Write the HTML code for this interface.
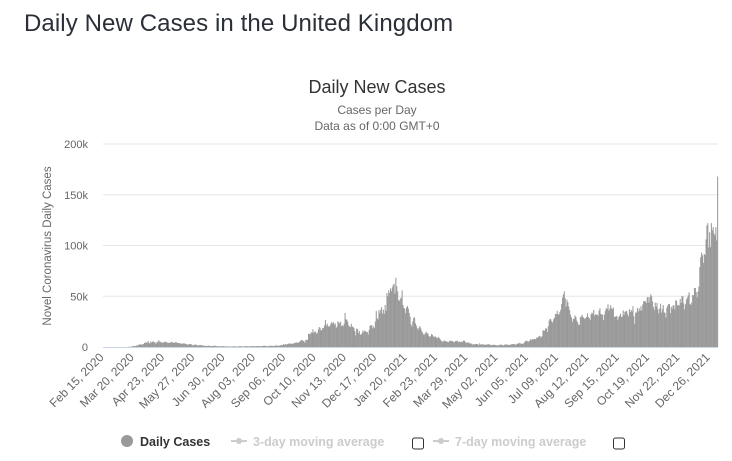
<!DOCTYPE html>
<html><head><meta charset="utf-8">
<style>
body{margin:0;background:#fff;width:732px;height:461px;overflow:hidden;font-family:"Liberation Sans","DejaVu Sans",sans-serif}
h1{position:absolute;left:24px;top:10px;margin:0;font-size:24px;font-weight:normal;color:#2b2f38;letter-spacing:0.1px}
svg{position:absolute;left:0;top:0}
</style></head><body>
<h1>Daily New Cases in the United Kingdom</h1>
<svg id="chart" width="732" height="461"></svg>
<script>
const startDate = new Date(Date.UTC(2020,1,15));
const yTicks = [0,50000,100000,150000,200000];
const yTickLabels = ["0","50k","100k","150k","200k"];
const xTickLabels = ["Feb 15, 2020","Mar 20, 2020","Apr 23, 2020","May 27, 2020","Jun 30, 2020","Aug 03, 2020","Sep 06, 2020","Oct 10, 2020","Nov 13, 2020","Dec 17, 2020","Jan 20, 2021","Feb 23, 2021","Mar 29, 2021","May 02, 2021","Jun 05, 2021","Jul 09, 2021","Aug 12, 2021","Sep 15, 2021","Oct 19, 2021","Nov 22, 2021","Dec 26, 2021"];
const xTickStep = 34;
// daily new cases, thousands, starting Feb 15, 2020
const casesK = [
0,0,0,0,0,0,0, 0,0,0,0,0,0,0, 0,0,0,0,0,0,0, 0,0,0,0,0,0,0,
0.3,0.2,0.2,0.4,0.6,0.7,1, 1,1,1.4,1.5,2,2.5,2.5, 2.5,2.4,2.6,3,4,4.3,4.4, 4.5,5.9,3.8,3.6,5.5,4.3,5.2,
5.3,4.7,4.3,3.2,5.3,4.6,6.6, 5.5,4.7,4.7,4.3,4.4,4.6,5.4, 4.9,4.5,4.3,4.1,4.1,4.3,5, 4.8,4.3,4,4.4,4.8,4.6,3.9,
3.9,3.9,3.5,3.4,3.2,3.4,3.6, 3.4,3.1,2.7,2.4,2.5,2.6,2.9, 2.9,2.4,1.6,2,2,2.6,2.2, 1.6,1.6,1.6,1.9,1.9,1.8,1.6,
1.3,1.2,1.2,1,1,1.2,1.5, 1,0.9,1,1,0.9,1.2,1.3, 0.9,0.9,0.8,0.8,0.7,0.6,0.7, 0.9,0.8,0.7,0.6,0.6,0.6,0.5,
0.6,0.5,0.4,0.5,0.6,0.5,0.8, 0.7,0.5,0.5,0.4,0.5,0.7,0.8, 0.8,0.7,0.5,0.4,0.7,0.7,0.8, 0.8,0.7,0.7,0.6,0.8,0.9,0.9,
0.7,0.7,0.9,0.7,0.9,1,0.9, 0.8,0.7,0.9,0.9,1,1.4,1.1, 1.1,0.7,0.8,0.8,1.2,1.1,1.3, 1,1.1,0.9,1.2,1.4,1.5,1.5,
1.1,1.3,1.5,1.8,1.9,1.9,2.9, 1.8,2.9,2.6,2.5,3,3.5,3.5, 3.3,3.1,3,3.8,3.4,4.3,4.3, 4.4,4,4.6,4.9,6.2,6.6,6.9,
6,5.7,4,7.1,7.1,6.9,12.9, 12.9,12.6,14.5,14.2,17.5,13.9,15.2, 15.2,13,13.9,17.2,19.7,18.9,16.2, 16.9,18.8,18.8,21.3,26.7,21.2,23,
20.5,19.8,20.9,22.9,24.7,23.1,24.4, 21.9,23.3,18.9,20,25.2,24.1,23.3, 24.9,20.6,21.4,20.4,22.9,33.5,27.3, 26.9,24.9,21.4,20.1,19.6,22.9,20.2,
19.9,18.6,15.5,11.3,18.2,17.6,13.7, 15.9,12.2,12.3,13.4,16.2,14.9,16.3, 15.5,14.7,14.7,12.2,16.6,20.9,21.5, 21.5,18.4,20.3,18.5,25.2,35.4,28.5,
27.1,36.3,33.4,36.8,39.2,32.7,36.8, 32.7,41.4,35.9,53.1,50,55.9,53.3, 57.7,55,58.8,61,62.3,52.6,68.1, 59.9,54.9,46.2,45.5,47.5,48.7,55.8,
41.3,38.6,37.5,33.4,38.9,40.3,37.9, 33.6,30,22.2,20.1,25.3,28.7,29.1, 23.3,21.1,18.6,16.8,19.2,20.6,18.3, 15.8,14.2,12.4,12.3,13.5,15,13.5,
13.3,10.9,9.8,10.6,12.7,12.1,10.4, 9.8,10.6,9.9,8.5,8.9,9.9,8.5, 7.4,6,5.5,4.7,6.4,6,5.9, 5.1,5.2,4.7,5.8,6.4,5.7,6,
5.5,4.6,5.1,5.8,5.8,6.3,4.8, 5.4,5.3,4.6,5.4,5.2,6.4,6.2, 4.7,3.9,4.7,4,4.5,3.4,3.4, 3.4,2.3,2.8,2.5,2.8,3,3,
2.6,1.7,3.6,2.5,2.5,2.6,2.8, 2,2.2,2.2,2.5,2.6,2.7,2.6, 2.1,1.7,2.1,2.1,2.2,2.1,1.9, 1.6,1.6,1.6,1.9,2.3,2.5,2,
1.8,1.6,2.4,2.3,2.7,2.2,2.2, 1.9,2.2,2.4,2.7,2.9,2.7,3, 2.2,2.4,3.2,3.5,3.5,4.2,3.3, 3.2,3.2,3.2,4.3,5.3,6.2,6.2,
5.3,5.3,6,7.5,6.9,7.7,7.7, 7.5,8,7.7,9.3,9,10,11, 10.3,9.3,10.6,16,16.7,15.8,18.3, 18.3,14.9,20.5,26,27.9,27.1,24.9,
24.1,27.3,28.8,32.6,32.5,35.7,32.4, 31.8,34.5,36.7,42.3,48.6,51.9,54.7, 48.1,39.9,46.6,44.1,39.9,36.4,31.8, 29.2,24.9,27.7,27.7,31.1,29.6,26.1,
24.5,21.9,21.7,29.3,30.2,31.8,29.6, 28.6,27.4,28.4,29.6,33.1,29.5,28.4, 26.7,32.3,33.9,32.8,36.6,31.1,32.1, 31.9,31.9,30.8,35.8,38.3,32.4,32.2,
31.8,26.4,32.1,35.7,38.2,37.6,42.1, 35.8,37.8,41.2,38,37.5,38.9,29.5, 30.1,29.6,30.8,26.6,29.2,30.6,32.7, 29.6,29.9,36.1,31.6,34.5,35.6,35.3,
32.4,30.3,37.2,34.5,36.5,35.1,40.2, 30.3,22.9,33.9,34,38.5,35.1,38.1, 35.9,40.2,36,42,45.1,45.1,44.9, 43.4,48.9,49.2,43.7,49.1,52,50,
44.9,39.3,36.5,43.7,39.8,43.5,37.1, 33.1,38,42.6,33.9,37.4,41.3,34.3, 33.6,29.1,38.6,40.9,42.4,42.2,33.3, 39.6,37.7,41.2,40.8,37.1,46.1,45.4,
40.9,41.4,40.9,47.3,43.4,50.1,49.9, 43,37.2,42,46.8,48.6,50.9,53.9, 42.5,41.3,43.9,51.3,50.8,58.2,58.1, 54,48.9,54.7,59.6,78.6,88.4,93,
90.4,82.9,91.7,90.6,106,119.8,122, 98,113,98.5,122,115,118,112, 110,118,105,168
];

const NS="http://www.w3.org/2000/svg";
const svg=document.getElementById('chart');
function mk(t,a,p){const e=document.createElementNS(NS,t);for(const k in a)e.setAttribute(k,a[k]);(p||svg).appendChild(e);return e;}
const X0=103,X1=718,Y0=347,Y1=144,YMAX=200000;
const n=casesK.length, bw=(X1-X0)/n;
const xPos=i=>X0+i*bw;
const yPos=v=>Y0-(v/YMAX)*(Y0-Y1);

let t=mk('text',{x:377,y:93,'text-anchor':'middle','font-size':18,fill:'#333'});t.textContent='Daily New Cases';


t=mk('text',{x:377,y:114,'text-anchor':'middle','font-size':12,fill:'#666'});t.textContent='Cases per Day';


t=mk('text',{x:377,y:130,'text-anchor':'middle','font-size':12,fill:'#666'});t.textContent='Data as of 0:00 GMT+0';



yTicks.forEach((v,i)=>{
  const y=yPos(v);
  if(v>0){const g=mk('line',{x1:X0,x2:X1,y1:y,y2:y,stroke:'#e6e6e6','stroke-width':1});
  
  }
  const l=mk('text',{x:88,y:y+4,'text-anchor':'end','font-size':11,fill:'#666'});l.textContent=yTickLabels[i];
  
  
});
t=mk('text',{transform:'translate(51,246) rotate(-90)','text-anchor':'middle','font-size':11.5,fill:'#666'});t.textContent='Novel Coronavirus Daily Cases';



const bars=mk('g',{fill:'#999'});


casesK.forEach((v,i)=>{
  const y=yPos(v*1000);
  const r=mk('rect',{x:xPos(i),y:y,width:bw+0.15,height:Y0-y},bars);
  
  
});
const ax=mk('line',{x1:X0,x2:X1,y1:Y0+0.5,y2:Y0+0.5,stroke:'#ccd6eb','stroke-width':1});



xTickLabels.forEach((s,k)=>{
  const x=xPos(k*xTickStep)+bw/2+1;
  const l=mk('text',{transform:`translate(${x},358) rotate(-45)`,'text-anchor':'end','font-size':12,fill:'#666'});l.textContent=s;
  
  
});

// legend
const lg=mk('g',{});


let c=mk('circle',{cx:127,cy:441,r:6,fill:'#999'},lg);


t=mk('text',{x:140,y:446,'font-size':12.5,'font-weight':'bold',fill:'#333'},lg);t.textContent='Daily Cases';


[[231,'3-day moving average',418],[433,'7-day moving average',619]].forEach(([x,s,cb])=>{
  const ln=mk('line',{x1:x,x2:x+16,y1:441,y2:441,stroke:'#ccc','stroke-width':2},lg);
  
  
  const d=mk('circle',{cx:x+8,cy:441,r:3,fill:'#ccc'},lg);
  
  
  const tx=mk('text',{x:x+22,y:446,'font-size':12.5,'font-weight':'bold',fill:'#ccc'},lg);tx.textContent=s;
  
  
  const b=mk('rect',{x:cb-5.5,y:438,width:11,height:11,rx:2,fill:'#fff',stroke:'#333','stroke-width':1},lg);
  
  
});
</script>
</body></html>
